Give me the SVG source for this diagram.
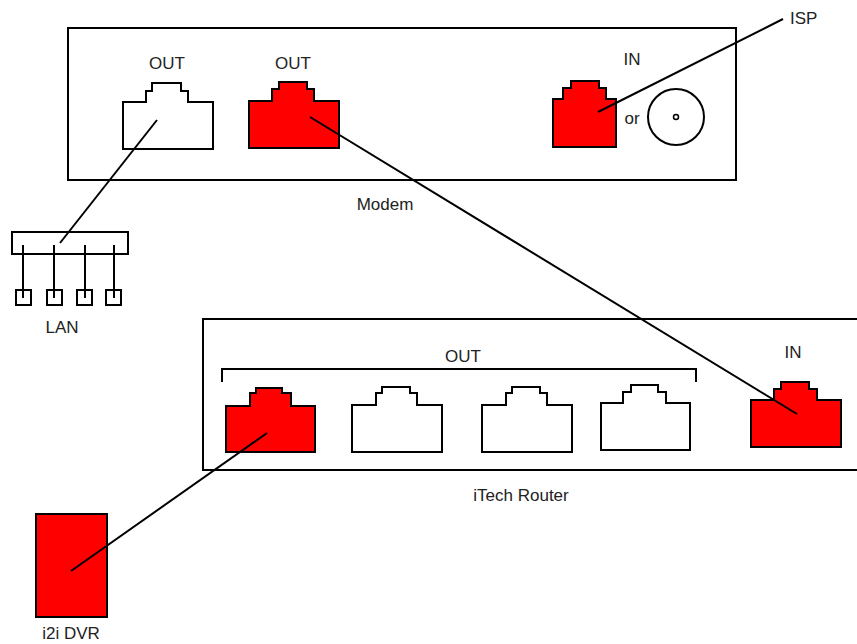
<svg xmlns="http://www.w3.org/2000/svg" width="857" height="644" viewBox="0 0 857 644">
<style>
.box{fill:#fff;stroke:#000;stroke-width:2}
.port{stroke:#000;stroke-width:2;stroke-linejoin:miter}
.red{fill:#ff0000}
.white{fill:#fff}
.wire{fill:none;stroke:#000;stroke-width:2}
text{font-family:"Liberation Sans",Arial,sans-serif;font-size:17px;fill:#222}
.c{text-anchor:middle}
</style>
<rect width="857" height="644" fill="#fff"/>
<g id="modem">
<rect class="box" x="68" y="28" width="668" height="152"/>
<text class="c" x="385" y="210">Modem</text>
</g>
<g id="modem-out1">
<path class="port white" d="M123,102 H146 V91 H152 V83 H181 V91 H188 V102 H213 V149 H123 Z"/>
<text class="c" x="167" y="69">OUT</text>
</g>
<g id="modem-out2">
<path class="port red" d="M249,101 H272 V89 H279 V82 H307 V89 H314 V101 H339 V148 H249 Z"/>
<text class="c" x="293" y="69">OUT</text>
</g>
<g id="modem-in">
<path class="port red" d="M553,99 H563 V88 H571 V81 H599 V88 H606 V99 H616 V147 H553 Z"/>
<text class="c" x="632" y="65">IN</text>
<text class="c" x="632" y="124">or</text>
<circle cx="676" cy="117" r="28" fill="#fff" stroke="#000" stroke-width="2"/>
<circle cx="676" cy="117" r="2.5" fill="#fff" stroke="#000" stroke-width="1.5"/>
</g>
<g id="isp">
<text x="790" y="24">ISP</text>
</g>
<g id="lan">
<rect class="box" x="12" y="232" width="116" height="22"/>
<g stroke="#000" stroke-width="2">
<line x1="23" y1="245" x2="23" y2="298"/>
<line x1="54" y1="245" x2="54" y2="298"/>
<line x1="85" y1="245" x2="85" y2="298"/>
<line x1="114" y1="245" x2="114" y2="298"/>
</g>
<g fill="none" stroke="#000" stroke-width="2">
<rect x="16" y="290" width="15" height="15"/>
<rect x="47" y="290" width="15" height="15"/>
<rect x="77" y="290" width="15" height="15"/>
<rect x="106" y="290" width="15" height="15"/>
</g>
<text class="c" x="62" y="333">LAN</text>
</g>
<g id="router">
<rect class="box" x="203" y="319" width="680" height="151"/>
<text class="c" x="521" y="501">iTech Router</text>
<path class="wire" d="M222,382 V369 H696 V382"/>
<text class="c" x="463" y="362">OUT</text>
</g>
<g id="router-out1">
<path class="port red" d="M226,406 H250 V393 H256 V388 H282 V393 H291 V406 H315 V452 H226 Z"/>
</g>
<g id="router-out2">
<path class="port white" d="M352,405 H376 V393 H382 V387 H410 V393 H417 V405 H442 V452 H352 Z"/>
</g>
<g id="router-out3">
<path class="port white" d="M482,405 H506 V393 H512 V387 H540 V393 H547 V405 H572 V452 H482 Z"/>
</g>
<g id="router-out4">
<path class="port white" d="M601,403 H623 V392 H631 V385 H658 V392 H666 V403 H690 V450 H601 Z"/>
</g>
<g id="router-in">
<path class="port red" d="M751,400 H774 V389 H781 V382 H809 V389 H817 V400 H841 V447 H751 Z"/>
<text class="c" x="793" y="358">IN</text>
</g>
<g id="dvr">
<rect x="36" y="514" width="71" height="103" fill="#ff0000" stroke="#000" stroke-width="2"/>
<text class="c" x="71" y="639">i2i DVR</text>
</g>
<g id="connectors" class="wire">
<line x1="783" y1="19" x2="598" y2="112"/>
<line x1="157" y1="120" x2="60" y2="243"/>
<line x1="310" y1="117" x2="797" y2="414"/>
<line x1="71" y1="571" x2="267" y2="433"/>
</g>
</svg>
